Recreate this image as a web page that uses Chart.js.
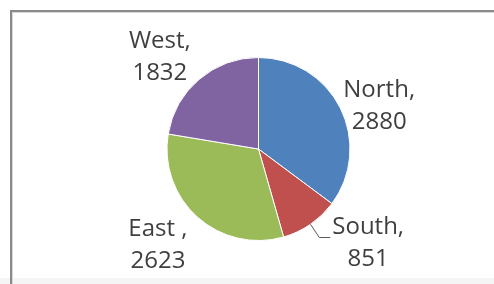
<!DOCTYPE html>
<html>
<head>
<meta charset="utf-8">
<script src="https://cdn.jsdelivr.net/npm/chart.js@4/dist/chart.umd.min.js"></script>
<style>
  html, body { margin: 0; padding: 0; background: #fff; }
  #wrap { position: relative; width: 494px; height: 284px; overflow: hidden; background: #fff; }
  #band { position: absolute; left: 0; top: 278px; width: 494px; height: 6px; background: #f5f5f5; }
  #frame { position: absolute; left: 10px; top: 10px; width: 500px; height: 300px;
           border-left: 2px solid #8a8a8a; border-top: 2px solid #8a8a8a;
           box-shadow: inset 1px 1px 0 #d8d8d8; }
  canvas { position: absolute; left: 0; top: 0; }
</style>
</head>
<body>
<div id="wrap">
  <div id="band"></div>
  <div id="frame"></div>
  <canvas id="c" width="494" height="284"></canvas>
</div>
<script>
const categories = ["North", "South", "East ", "West"];
const values = [2880, 851, 2623, 1832];
const colors = ["#4F81BD", "#C0504D", "#9BBB59", "#8064A2"];

// label placement style (relative to each slice's outer edge)
const labelStyle = {
  font: "24px 'Open Sans'",
  color: "#3f3f3f",
  lineHeight: 32,
  gap: 10,
  nudge: [[30, 3], [52, 11], [-33, 20], [-33, -14]],
  leader: [false, true, false, false]
};

const labelPlugin = {
  id: "outLabels",
  afterDatasetsDraw(chart) {
    const ctx = chart.ctx;
    const meta = chart.getDatasetMeta(0);
    ctx.save();
    ctx.font = labelStyle.font;
    ctx.fillStyle = labelStyle.color;
    ctx.textBaseline = "middle";
    ctx.textAlign = "center";
    meta.data.forEach((arc, i) => {
      const p = arc.getProps(["x", "y", "startAngle", "endAngle", "outerRadius"], true);
      const mid = (p.startAngle + p.endAngle) / 2;
      const ux = Math.cos(mid), uy = Math.sin(mid);
      const R = p.outerRadius + labelStyle.gap;
      const cx = p.x + R * ux + labelStyle.nudge[i][0];
      const cy = p.y + R * uy + labelStyle.nudge[i][1];
      const lines = [categories[i] + ",", String(values[i])];
      const lh = labelStyle.lineHeight;
      lines.forEach((t, k) => {
        ctx.fillText(t, cx, cy + (k - 0.5) * lh);
      });
      if (labelStyle.leader[i]) {
        const w = ctx.measureText(lines[0]).width;
        const left = cx - w / 2 - 2;
        const ly = cy - 0.5 * lh + 10;
        ctx.strokeStyle = "#595959";
        ctx.lineWidth = 1;
        ctx.beginPath();
        ctx.moveTo(p.x + p.outerRadius * ux, p.y + p.outerRadius * uy);
        ctx.lineTo(left - 11, ly);
        ctx.lineTo(left, ly);
        ctx.stroke();
      }
    });
    ctx.restore();
  }
};

new Chart(document.getElementById("c"), {
  type: "pie",
  data: {
    labels: categories,
    datasets: [{
      data: values,
      backgroundColor: colors,
      borderColor: "#ffffff",
      borderWidth: 1,
      hoverOffset: 0,
      offset: 0
    }]
  },
  options: {
    responsive: false,
    animation: false,
    layout: { padding: { top: 57, bottom: 43, left: 166.5, right: 143.5 } },
    plugins: { legend: { display: false }, tooltip: { enabled: false } }
  },
  plugins: [labelPlugin]
});
</script>
</body>
</html>
